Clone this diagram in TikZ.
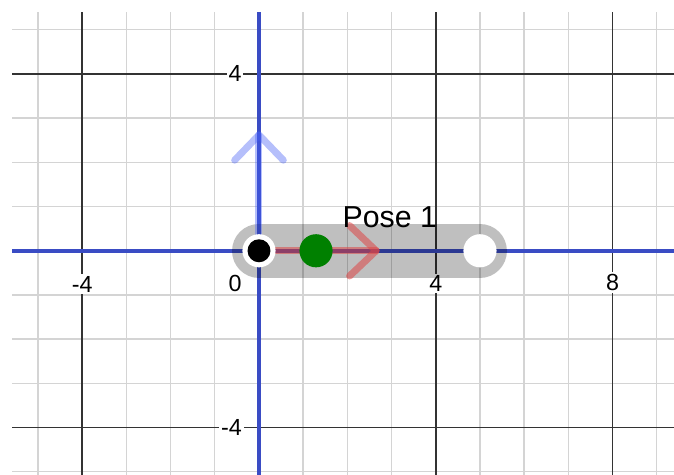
\documentclass[tikz,border=0pt]{standalone}
\usepackage{fontspec}
\setmainfont{Liberation Sans}
\usepackage{xcolor}
\usetikzlibrary{positioning}
\definecolor{axisblue}{RGB}{58,76,196}
\definecolor{posered}{RGB}{222,70,70}
\definecolor{poseblue}{RGB}{70,95,245}
\definecolor{posegreen}{RGB}{0,128,0}
\tikzstyle{minorgrid} = [draw=black!17, line width=0.9pt]
\tikzstyle{majorgrid} = [draw=black!80, line width=1.1pt]
\tikzstyle{axisline} = [draw=axisblue, line width=2.6pt]
\tikzstyle{ticklabel} = [fill=white, inner sep=1.2pt, font=\fontsize{15}{15}\selectfont]
\tikzstyle{posebar} = [draw=black, draw opacity=0.25, line width=1.22cm, line cap=round]
\tikzstyle{xdir} = [draw=posered, draw opacity=0.55, line width=4.5pt, line cap=round, line join=round]
\tikzstyle{ydir} = [draw=poseblue, draw opacity=0.4, line width=4.5pt, line cap=round, line join=round]
\tikzstyle{dot} = [circle, inner sep=0pt, minimum size=0.75cm]

\begin{document}
\begin{tikzpicture}

\useasboundingbox (-5.86,-5.072) rectangle (9.39,5.674);

% Grid
\foreach \x in {-5,...,9} \draw[minorgrid] (\x,-5.072) -- (\x,5.40);
\foreach \y in {-5,...,5} \draw[minorgrid] (-5.588,\y) -- (9.39,\y);
\foreach \x in {-4,4,8} \draw[majorgrid] (\x,-5.072) -- (\x,5.40);
\foreach \y in {-4,4} \draw[majorgrid] (-5.588,\y) -- (9.39,\y);

% Tick labels
\node[ticklabel] (xm4) at (-4,-0.76) {-4};
\node[ticklabel] (x0) at (-0.54,-0.74) {0};
\node[ticklabel] (x4) at (4,-0.74) {4};
\node[ticklabel] (x8) at (8,-0.72) {8};
\node[ticklabel] (y4) at (-0.54,4) {4};
\node[ticklabel] (ym4) at (-0.62,-4) {-4};

% Axes
\draw[axisline] (-5.588,0) -- (9.39,0);
\draw[axisline] (0,-5.072) -- (0,5.40);

% Pose
\draw[posebar] (0,0) -- (5,0);
\coordinate (origin) at (0,0);
\coordinate (xtip) at (2.65,0);
\coordinate (ytip) at (0,2.62);
\draw[xdir] (origin) -- (xtip);
\draw[xdir] (2.05,0.57) -- (xtip) -- (2.05,-0.57);
\draw[ydir] (origin) -- (ytip);
\draw[ydir] (-0.55,2.05) -- (ytip) -- (0.55,2.05);

\node[dot, fill=white] (tail) at (5,0) {};
\node[dot, fill=white] (ring) at (origin) {};
\node[dot, fill=black, minimum size=0.52cm] (base) at (origin) {};
\node[dot, fill=posegreen] (center) at (1.29,0) {};

\node[font=\fontsize{19.5}{19.5}\selectfont] (pose) at (2.96,0.76) {Pose 1};

\end{tikzpicture}
\end{document}
